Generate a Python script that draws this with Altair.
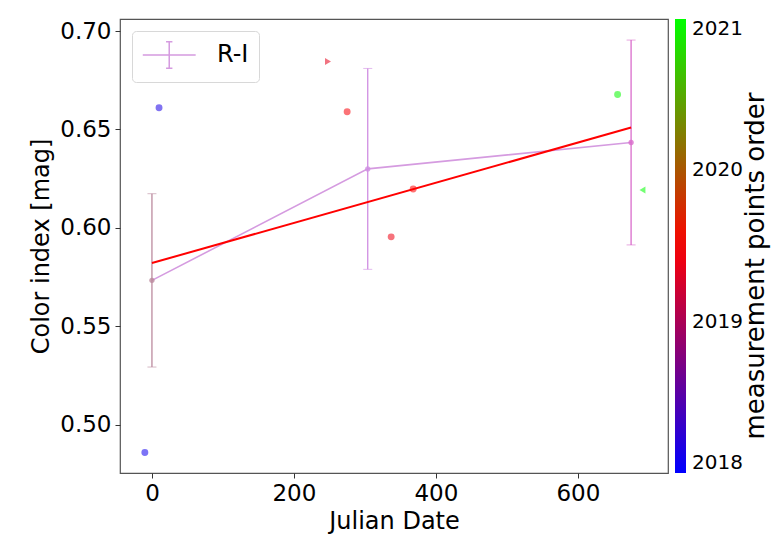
import altair as alt
import pandas as pd

# ---- data ----
pt_x = [-10, 10, 248, 275, 337, 368, 656, 691]
pt_y = [0.486, 0.661, 0.6845, 0.659, 0.5955, 0.6198, 0.6678, 0.6193]
pt_year = [2018.1, 2018.15, 2019.35, 2019.45, 2019.4, 2019.5, 2020.95, 2021.0]
pt_shape = ["circle", "circle", "triangle-right", "circle", "circle", "circle", "circle", "triangle-left"]

ri_x = [0, 304, 675]
ri_y = [0.5734, 0.630, 0.6434]
ri_err = [0.044, 0.051, 0.052]
ri_color = ["#bb8a9e", "#d08ee2", "#d96ccc"]

fit_x = [0, 675]
fit_y = [0.5822, 0.651]

cbar_ticks = [2018, 2019, 2020, 2021]
x_ticks = [0, 200, 400, 600]
y_ticks = [0.50, 0.55, 0.60, 0.65, 0.70]

FONT = "DejaVu Sans"
W, H = 548, 454

pts = pd.DataFrame({"x": pt_x, "y": pt_y, "year": pt_year, "shape": pt_shape})
ri = pd.DataFrame({"x": ri_x, "y": ri_y, "err": ri_err, "series": ["R-I"] * 3})
ri["lo"] = ri["y"] - ri["err"]
ri["hi"] = ri["y"] + ri["err"]
fit = pd.DataFrame({"x": fit_x, "y": fit_y})

xs = alt.Scale(domain=[-45, 727], nice=False, zero=False)
ys = alt.Scale(domain=[0.4756, 0.7061], nice=False, zero=False)

xax = alt.Axis(values=x_ticks, title="Julian Date", grid=False, labelFontSize=23,
               titleFontSize=24, tickSize=5, labelPadding=4, titlePadding=4,
               domain=False, labelColor="#000", titleColor="#000", tickColor="#333",
               titleFontWeight="normal")
yax = alt.Axis(values=y_ticks, format=".2f", title="Color index [mag]", grid=False,
               labelFontSize=23, titleFontSize=24, tickSize=5, labelPadding=4,
               titlePadding=6, domain=False, labelColor="#000", titleColor="#000",
               tickColor="#333", titleFontWeight="normal")

X = alt.X("x:Q", scale=xs, axis=xax)
Y = alt.Y("y:Q", scale=ys, axis=yax)

scatter = alt.Chart(pts).mark_point(filled=True, size=48, fillOpacity=0.55, strokeWidth=0).encode(
    x=X, y=Y,
    shape=alt.Shape("shape:N", scale=None),
    color=alt.Color(
        "year:Q",
        scale=alt.Scale(domain=[2018, 2019.5, 2021], range=["#0000ff", "#ff0000", "#00ff00"],
                        interpolate="rgb"),
        legend=alt.Legend(orient="none", legendX=W + 7, legendY=0, direction="vertical",
                          gradientLength=H, gradientThickness=11, values=cbar_ticks,
                          format="d", labelFontSize=20, labelOffset=6, title=None,
                          padding=0, gradientStrokeWidth=0, labelColor="#000",
                          labelBaseline="middle", labelOverlap=False),
    ),
)

fitline = alt.Chart(fit).mark_line(color="#ff0000", strokeWidth=2).encode(x=X, y=Y)

riline = alt.Chart(ri).mark_line(strokeWidth=1.6).encode(
    x=X, y=Y,
    stroke=alt.Stroke(
        "series:N",
        scale=alt.Scale(domain=["R-I"], range=["#d59be0"]),
        legend=alt.Legend(orient="top-left", offset=12, padding=10, fillColor="white",
                          strokeColor="#d8d8d8", cornerRadius=4, title=None,
                          symbolType="M-1,0H3M1,-1V1M0.76,-1H1.24M0.76,1H1.24",
                          symbolSize=700, symbolStrokeWidth=1.5,
                          symbolStrokeColor="#cf8098", labelFontSize=24,
                          labelOffset=47, labelColor="#000"),
    ),
)

err_layers = []
for i, col in enumerate(ri_color):
    d = ri.iloc[[i]]
    err_layers.append(alt.Chart(d).mark_rule(strokeWidth=1.3, color=col).encode(
        x=X, y=alt.Y("lo:Q", scale=ys), y2="hi:Q"))
    err_layers.append(alt.Chart(d).mark_tick(orient="horizontal", size=9, thickness=1,
                                             opacity=0.6, color=col).encode(
        x=X, y=alt.Y("lo:Q", scale=ys)))
    err_layers.append(alt.Chart(d).mark_tick(orient="horizontal", size=9, thickness=1,
                                             opacity=0.6, color=col).encode(
        x=X, y=alt.Y("hi:Q", scale=ys)))
    err_layers.append(alt.Chart(d).mark_circle(size=28, opacity=0.8, color=col).encode(
        x=X, y=Y))

cbar_title = alt.Chart(pd.DataFrame({"t": ["measurement points order"]})).mark_text(
    angle=270, fontSize=26, align="center", baseline="middle", color="#000"
).encode(text="t:N", x=alt.value(636), y=alt.value(247))

chart = alt.layer(riline, *err_layers, fitline, scatter, cbar_title).properties(
    width=W, height=H,
    autosize=alt.AutoSizeParams(type="none"),
    padding={"left": 120, "top": 19, "right": 104, "bottom": 64},
).configure(font=FONT).configure_view(stroke="#555", strokeWidth=1.2)

chart.save("out.html", embed_options={"renderer": "svg", "actions": False})
